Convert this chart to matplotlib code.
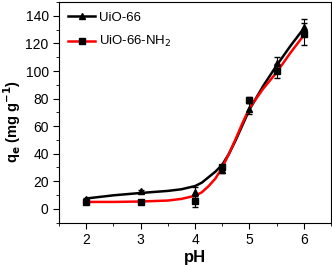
import matplotlib
matplotlib.use("Agg")
import matplotlib.pyplot as plt
from matplotlib.ticker import MultipleLocator

plt.rcParams['font.family'] = ['Liberation Sans', 'DejaVu Sans']

# measured points
ph = [2, 3, 4, 4.5, 5, 5.5, 6]
uio66 = [7.2, 12.8, 12, 28, 72.5, 106, 132]
uio66_err = [1, 1, 4, 2, 4, 4, 6]
nh2 = [5.3, 5.3, 5.5, 30, 79, 100, 127]
nh2_err = [1, 1, 4, 2, 2, 5, 8]

# fitted curves
fit_ph = [2.0, 2.5, 3.0, 3.5, 3.75, 4.0, 4.125, 4.25, 4.375, 4.5, 4.625, 4.75, 4.875, 5.0, 5.25, 5.5, 5.75, 6.0]
fit_uio66 = [7.5, 9.8, 11.5, 13, 14.2, 16.5, 19, 23, 27, 32, 40, 50, 61, 72, 89, 104, 118, 131]
fit_nh2 = [5, 5, 5.3, 6, 7.2, 9.5, 12, 16.5, 22, 30, 40, 51, 62.5, 73, 87, 99, 113, 126]

fig = plt.figure(figsize=(3.32, 2.65), dpi=100)
ax = fig.add_axes([0.178, 0.160, 0.819, 0.832])

ax.plot(fit_ph, fit_uio66, color='black', lw=1.8, zorder=3)
ax.plot(fit_ph, fit_nh2, color='red', lw=1.8, zorder=3)
ax.errorbar(ph, uio66, yerr=uio66_err, fmt='^', color='black', ms=4, capsize=2, elinewidth=0.8, zorder=4)
ax.errorbar(ph, nh2, yerr=nh2_err, fmt='s', color='black', ms=4, capsize=2, elinewidth=0.8, zorder=4)

h1, = ax.plot([], [], color='black', lw=1.8, marker='^', ms=4, label='UiO-66')
h2, = ax.plot([], [], color='red', lw=1.8, marker='s', ms=4, mfc='black', mec='black', label='UiO-66-NH$_2$')
ax.legend(handles=[h1, h2], loc='upper left', frameon=False, fontsize=9.5, handlelength=2.0,
          handletextpad=0.3, borderaxespad=0.3, labelspacing=0.8)

ax.set_xlim(1.5, 6.5)
ax.set_ylim(-10, 150)
ax.set_xticks([2, 3, 4, 5, 6])
ax.set_yticks([0, 20, 40, 60, 80, 100, 120, 140])
ax.xaxis.set_minor_locator(MultipleLocator(0.5))
ax.yaxis.set_minor_locator(MultipleLocator(10))
ax.tick_params(which='both', direction='out', labelsize=10)
ax.tick_params(which='major', length=4)
ax.tick_params(which='minor', length=2)
ax.set_xlabel('pH', fontsize=12, fontweight='bold', labelpad=2)
ax.set_ylabel('q$_\\mathbf{e}$ (mg g$^{\\mathbf{-1}}$)', fontsize=10.5, fontweight='bold')
ax.yaxis.set_label_coords(-0.132, 0.46)

fig.savefig('out.png', dpi=100)
